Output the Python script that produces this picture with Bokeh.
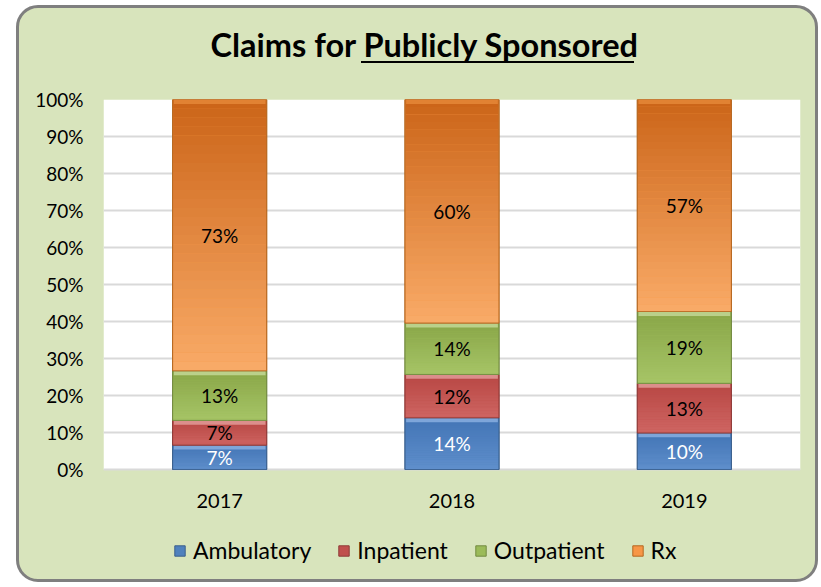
import numpy as np
from bokeh.plotting import figure
from bokeh.models import (ColumnDataSource, FactorRange, NumeralTickFormatter,
                          Legend, LegendItem, FixedTicker, BoxAnnotation)
from bokeh.core.properties import value
from bokeh.embed import file_html
from bokeh.resources import INLINE

# ---------------- data ----------------
years = ["2017", "2018", "2019"]
series = ["Ambulatory", "Inpatient", "Outpatient", "Rx"]
ambulatory = [6.6, 14.0, 9.9]
inpatient = [6.7, 11.7, 13.4]
outpatient = [13.4, 13.9, 19.4]
rx = [73.3, 60.4, 57.3]
y_ticks = [0, 10, 20, 30, 40, 50, 60, 70, 80, 90, 100]
title_text = "Claims for Publicly Sponsored"

values = {"Ambulatory": ambulatory, "Inpatient": inpatient,
          "Outpatient": outpatient, "Rx": rx}

# ---------------- styles ----------------
FONT = "Lato"
styles = {
    "Ambulatory": dict(top="#4274b5", bot="#5f8fcc", base="#4f81bd", bevel="#8cb2e2", edge="#3a5f8c", label="white"),
    "Inpatient": dict(top="#b74643", bot="#cf6663", base="#c0504d", bevel="#e5a09e", edge="#8f3a37", label="black"),
    "Outpatient": dict(top="#88a547", bot="#a7c567", base="#9bbb59", bevel="#c5db9b", edge="#728a40", label="black"),
    "Rx": dict(top="#cb6418", bot="#f9ab68", base="#f79646", bevel="#e6893a", edge="#b5671f", label="black"),
}
BAR_W = 0.405
N_STRIPS = 30
BEVEL = 0.012

# layout (pixels)
SHIFT = 14                 # canvas starts this far above the page top
W, H = 802, 596
TOP, LEFT, RIGHT = 113, 87, 18
PLOT_H = 370               # height of the 0..100% area
FRAME_H = H - TOP          # frame reaches down to the canvas bottom
y_lo = -(FRAME_H - PLOT_H) / PLOT_H


def hex2rgb(h):
    h = h.lstrip("#")
    return np.array([int(h[i:i + 2], 16) for i in (0, 2, 4)], dtype=float)


def mix(c1, c2, t):
    a, b = hex2rgb(c1), hex2rgb(c2)
    c = a + (b - a) * t
    return "#%02x%02x%02x" % tuple(int(round(v)) for v in c)


p = figure(width=W, height=H, x_range=FactorRange(*years, range_padding=0),
           y_range=(y_lo, 1), output_backend="svg", toolbar_location=None,
           min_border_left=LEFT, min_border_right=RIGHT, min_border_top=TOP,
           min_border_bottom=0)
p.styles = {"margin-left": "16px", "margin-top": f"-{SHIFT}px"}
p.stylesheets = [
    # rounded chart box
    ":host::before { content: ''; position: absolute; left: 0px; "
    f"top: {SHIFT + 5}px; width: 802px; height: 577px; box-sizing: border-box; "
    "border: 3px solid #7f7f7f; border-radius: 22px; "
    "background: #d8e4bc; z-index: -1; }",
    # underline under "Publicly Sponsored" (decoration only)
    ":host::after { content: ''; position: absolute; left: 345px; "
    f"top: {SHIFT + 61}px; width: 273px; height: 2px; background: #000; }}",
]
p.border_fill_color = None
p.background_fill_color = None
p.outline_line_color = None

# white plot area (0%..100%)
p.add_layout(BoxAnnotation(bottom=0, top=1, fill_color="white", fill_alpha=1,
                           line_color=None, level="image"))

stack = np.zeros(len(years))
legend_items = []
for s in series:
    v = np.array(values[s]) / 100.0
    bottoms = stack.copy()
    tops = stack + v
    st = styles[s]
    base = p.vbar(x=years, bottom=bottoms, top=tops, width=BAR_W,
                  fill_color=st["base"], line_color=st["edge"], line_width=1)
    legend_items.append(LegendItem(label=s, renderers=[base]))
    xs, bs, ts, cs = [], [], [], []
    for i, yr in enumerate(years):
        h = tops[i] - bottoms[i]
        for k in range(N_STRIPS):
            t0 = k / N_STRIPS
            t1 = (k + 1) / N_STRIPS
            xs.append(yr)
            ts.append(tops[i] - h * t0)
            bs.append(tops[i] - h * t1 - 0.0005)
            cs.append(mix(st["top"], st["bot"], (t0 + t1) / 2))
    p.vbar(x=xs, bottom=bs, top=ts, width=BAR_W - 0.004, fill_color=cs,
           line_color=None)
    p.vbar(x=years, bottom=tops - BEVEL, top=tops, width=BAR_W - 0.01,
           fill_color=st["bevel"], fill_alpha=0.8, line_color=None)
    p.vbar(x=years, bottom=bottoms, top=tops, width=BAR_W, fill_color=None,
           line_color=st["edge"], line_width=1, line_alpha=0.8)
    mids = (bottoms + tops) / 2
    labels = [f"{int(round(val))}%" for val in values[s]]
    src = ColumnDataSource(dict(x=years, y=mids, t=labels))
    p.text(x="x", y="y", text="t", source=src, text_align="center",
           text_baseline="middle", text_font=value(FONT),
           text_font_size="19px", text_color=st["label"])
    stack = tops

p.yaxis.ticker = FixedTicker(ticks=[t / 100 for t in y_ticks])
p.yaxis.formatter = NumeralTickFormatter(format="0%")
for ax in (p.xaxis, p.yaxis):
    ax.axis_line_color = None
    ax.major_tick_line_color = None
    ax.minor_tick_line_color = None
    ax.major_tick_out = 0
    ax.major_tick_in = 0
    ax.major_label_text_font = FONT
    ax.major_label_text_color = "black"
p.xaxis.fixed_location = 0
p.yaxis.major_label_text_font_size = "19px"
p.yaxis.major_label_standoff = 20
p.xaxis.major_label_text_font_size = "20px"
p.xaxis.major_label_standoff = 24
p.xgrid.grid_line_color = None
p.ygrid.grid_line_color = "#d9d9d9"
p.ygrid.grid_line_width = 2

p.title.text = title_text
p.title.text_font = FONT
p.title.text_font_size = "32.5px"
p.title.text_font_style = "bold"
p.title.text_color = "black"
p.title.align = "left"
p.title.offset = 107
p.title.standoff = 72

legend = Legend(items=legend_items, orientation="horizontal",
                location=(70, 18), glyph_width=13, glyph_height=13,
                label_text_font=FONT, label_text_font_size="23px",
                label_text_color="black",
                label_standoff=7, spacing=26, padding=0, margin=0,
                background_fill_alpha=0, border_line_color=None)
p.add_layout(legend, "center")

open("out.html", "w").write(file_html(p, INLINE))
